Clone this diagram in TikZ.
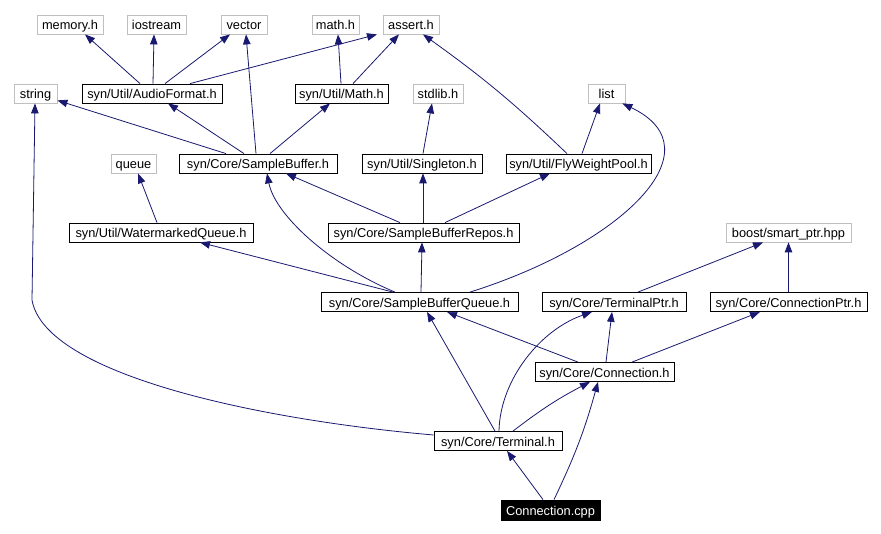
\documentclass[tikz,border=0pt]{standalone}
\usepackage{fontspec}
\setmainfont{Liberation Sans}
\usetikzlibrary{arrows.meta}
\definecolor{edgecol}{RGB}{25,25,112}
\definecolor{extgray}{RGB}{191,191,191}
\begin{document}
\begin{tikzpicture}[x=1pt,y=-1pt,
  box/.style={draw=black, line width=0.8pt, minimum height=19pt, inner sep=0pt,
    font=\fontsize{12.8}{14}\selectfont, text height=12pt, text depth=1pt},
  ext/.style={box, draw=extgray},
  int/.style={box},
  mainbox/.style={box, fill=black, text=white, minimum height=20pt},
  edge/.style={draw=edgecol, line width=0.8pt, -{Triangle[length=10pt,width=7.5pt]}}]
\useasboundingbox[fill=white] (0,0) rectangle (881,534);
% external headers
\node[ext, minimum width=66pt] (mem) at (70,24.5) {memory.h};
\node[ext, minimum width=59pt] (ios) at (156.5,24.5) {iostream};
\node[ext, minimum width=46pt] (vec) at (244,24.5) {vector};
\node[ext, minimum width=47pt] (mathh) at (335.5,24.5) {math.h};
\node[ext, minimum width=56pt] (assert) at (411,24.5) {assert.h};
\node[ext, minimum width=43pt] (str) at (35.5,93.5) {string};
\node[ext, minimum width=50pt] (stdlib) at (438,93.5) {stdlib.h};
\node[ext, minimum width=37pt] (list) at (606.5,93.5) {list};
\node[ext, minimum width=45pt] (queue) at (133.5,163.5) {queue};
\node[ext, minimum width=125pt] (boost) at (788.5,232.5) {boost/smart\_ptr.hpp};
% internal headers
\node[int, minimum width=140pt] (af) at (152,93.5) {syn/Util/AudioFormat.h};
\node[int, minimum width=93pt] (umath) at (341.5,93.5) {syn/Util/Math.h};
\node[int, minimum width=158pt] (sb) at (258,163.5) {syn/Core/SampleBuffer.h};
\node[int, minimum width=120pt] (single) at (422,163.5) {syn/Util/Singleton.h};
\node[int, minimum width=145pt] (fwp) at (578.5,163.5) {syn/Util/FlyWeightPool.h};
\node[int, minimum width=184pt] (wq) at (161,232.5) {syn/Util/WatermarkedQueue.h};
\node[int, minimum width=191pt] (sbr) at (423.5,232.5) {syn/Core/SampleBufferRepos.h};
\node[int, minimum width=197pt] (sbq) at (419.5,302) {syn/Core/SampleBufferQueue.h};
\node[int, minimum width=144pt] (tptr) at (614,302) {syn/Core/TerminalPtr.h};
\node[int, minimum width=157pt] (cptr) at (788.5,302) {syn/Core/ConnectionPtr.h};
\node[int, minimum width=139pt] (conn) at (604.5,372) {syn/Core/Connection.h};
\node[int, minimum width=128pt] (term) at (498,441) {syn/Core/Terminal.h};
\node[mainbox, minimum width=99pt] (cpp) at (550.5,510) {Connection.cpp};
% edges
\draw[edge] ([xshift=-12pt]af.north) -- ([xshift=15pt]mem.south);
\draw[edge] ([xshift=1pt]af.north) -- ([xshift=-2.5pt]ios.south);
\draw[edge] ([xshift=13pt]af.north) -- ([xshift=-14pt]vec.south);
\draw[edge] ([xshift=38pt]af.north) -- ([xshift=-34pt]assert.south);
\draw[edge] ([xshift=-2pt]sb.north) -- ([xshift=2pt]vec.south);
\draw[edge] ([xshift=-32pt]sb.north) -- ([yshift=3pt]str.south east);
\draw[edge] ([xshift=-14pt]sb.north) -- ([xshift=16pt]af.south);
\draw[edge] ([xshift=12pt]sb.north) -- ([xshift=-11.5pt]umath.south);
\draw[edge] ([xshift=-0.5pt]umath.north) -- ([xshift=2.5pt]mathh.south);
\draw[edge] ([xshift=11.5pt]umath.north) -- ([xshift=-12pt]assert.south);
\draw[edge] ([xshift=-11.5pt]fwp.north) to[bend right=4] ([xshift=12pt]assert.south);
\draw[edge] ([xshift=3.5pt]fwp.north) -- ([xshift=-6.5pt]list.south);
\draw[edge] ([xshift=50.5pt]sbq.north) .. controls (620,245) and (720,150) .. ([xshift=-3pt]list.south east);
\draw[edge] ([xshift=1pt]single.north) -- ([xshift=-6pt]stdlib.south);
\draw[edge] ([xshift=-4pt]wq.north) -- ([xshift=4.5pt]queue.south);
\draw[edge] ([xshift=-23.5pt]sbr.north) -- ([xshift=28pt]sb.south);
\draw[edge] ([xshift=-0.5pt]sbr.north) -- ([xshift=1pt]single.south);
\draw[edge] ([xshift=21.5pt]sbr.north) -- ([xshift=-28.5pt]fwp.south);
\draw[edge] ([xshift=-26.5pt]sbq.north) -- ([xshift=39pt]wq.south);
\draw[edge] ([xshift=-24.5pt]sbq.north) .. controls (330,265) and (275,215) .. ([xshift=9pt]sb.south);
\draw[edge] ([xshift=1.5pt]sbq.north) -- ([xshift=-1.5pt]sbr.south);
\draw[edge] ([yshift=6pt]term.west) .. controls (260,420) and (45,375) .. (32,300) -- ([xshift=-0.5pt]str.south);
\draw[edge] ([xshift=-3pt]term.north) -- ([xshift=7.5pt]sbq.south);
\draw[edge] ([xshift=1pt]term.north) .. controls (500,380) and (540,330) .. ([xshift=-22pt]tptr.south);
\draw[edge] ([xshift=15pt]term.north) to[bend left=5] ([xshift=-14.5pt]conn.south);
\draw[edge] ([xshift=-26.5pt]conn.north) -- ([xshift=27.5pt]sbq.south);
\draw[edge] ([xshift=1.5pt]conn.north) -- ([xshift=-2pt]tptr.south);
\draw[edge] ([xshift=27.5pt]conn.north) -- ([xshift=-28.5pt]cptr.south);
\draw[edge] ([xshift=24pt]tptr.north) -- ([xshift=-25.5pt]boost.south);
\draw[edge] (cptr.north) -- (boost.south);
\draw[edge] ([xshift=-7.5pt]cpp.north) -- ([xshift=9pt]term.south);
\draw[edge] ([xshift=3.5pt]cpp.north) to[bend right=5] ([xshift=-6.5pt]conn.south);
\end{tikzpicture}
\end{document}
